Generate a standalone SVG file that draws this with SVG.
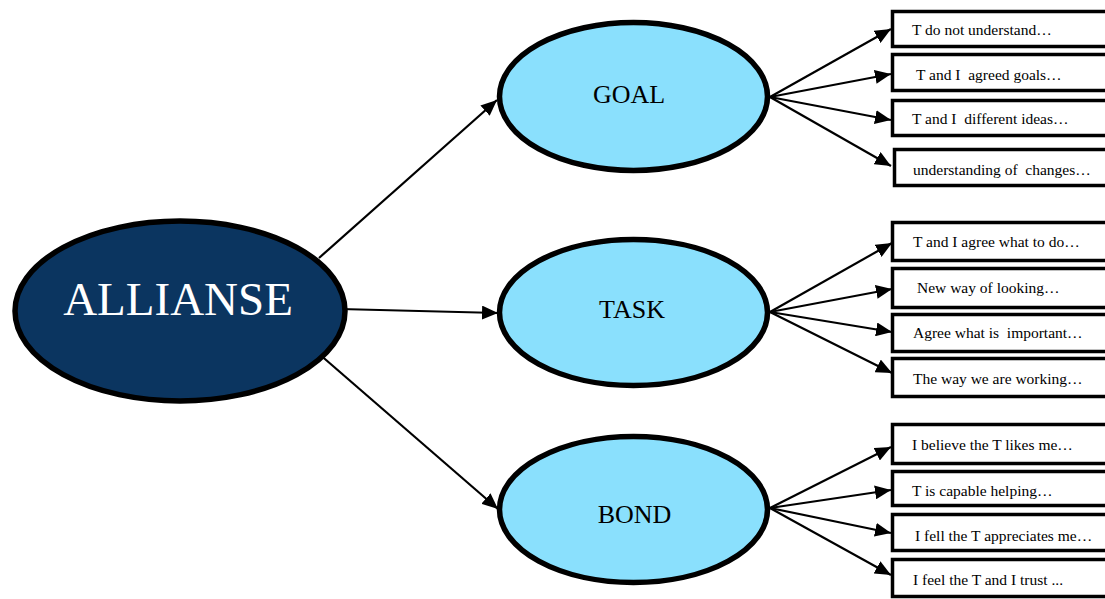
<svg xmlns="http://www.w3.org/2000/svg" width="1105" height="599" viewBox="0 0 1105 599">
  <style>
    .root { fill: #0b3560; stroke: #000; stroke-width: 5.5; }
    .dim { fill: #8ae0fd; stroke: #000; stroke-width: 5.5; }
    .item { fill: #fff; stroke: #000; stroke-width: 3.5; }
    .link { stroke: #000; stroke-width: 2.2; fill: none; marker-end: url(#arrow); }
    .big { font-family: "Liberation Serif", "Times New Roman", serif; font-size: 47px; fill: #fff; text-anchor: middle; }
    .mid { font-family: "Liberation Serif", "Times New Roman", serif; font-size: 26px; fill: #000; text-anchor: middle; }
    .lbl { font-family: "Liberation Serif", "Times New Roman", serif; font-size: 15.5px; fill: #000; white-space: pre; }
  </style>
  <defs>
    <marker id="arrow" markerUnits="userSpaceOnUse" markerWidth="17" markerHeight="14" refX="16" refY="7" orient="auto">
      <path d="M0,0 L16,7 L0,14 z" fill="#000"/>
    </marker>
  </defs>

  <!-- connectors -->
  <g id="connectors">
    <line class="link" x1="319" y1="258" x2="497" y2="100"/>
    <line class="link" x1="340" y1="309" x2="498" y2="313"/>
    <line class="link" x1="318" y1="353" x2="498" y2="509"/>

    <line class="link" x1="770" y1="97" x2="891" y2="29"/>
    <line class="link" x1="770" y1="97" x2="891" y2="74"/>
    <line class="link" x1="770" y1="97" x2="891" y2="120"/>
    <line class="link" x1="770" y1="97" x2="891" y2="166"/>

    <line class="link" x1="770" y1="312" x2="892" y2="243"/>
    <line class="link" x1="770" y1="312" x2="892" y2="289"/>
    <line class="link" x1="770" y1="312" x2="892" y2="332"/>
    <line class="link" x1="770" y1="312" x2="892" y2="373"/>

    <line class="link" x1="770" y1="508" x2="891" y2="447"/>
    <line class="link" x1="770" y1="508" x2="891" y2="490"/>
    <line class="link" x1="770" y1="508" x2="891" y2="533"/>
    <line class="link" x1="770" y1="508" x2="891" y2="575"/>
  </g>

  <!-- central node -->
  <g id="allianse">
    <ellipse class="root" cx="180" cy="311" rx="165" ry="90"/>
    <text class="big" x="178" y="315">ALLIANSE</text>
  </g>

  <!-- dimension nodes -->
  <g id="goal">
    <ellipse class="dim" cx="633.5" cy="96.5" rx="134" ry="74"/>
    <text class="mid" x="629" y="103">GOAL</text>
  </g>
  <g id="task">
    <ellipse class="dim" cx="633.5" cy="312.5" rx="134" ry="73"/>
    <text class="mid" x="632" y="318">TASK</text>
  </g>
  <g id="bond">
    <ellipse class="dim" cx="633.5" cy="509.5" rx="134" ry="73"/>
    <text class="mid" x="634.5" y="523">BOND</text>
  </g>

  <!-- goal items -->
  <g id="goal-1">
    <rect class="item" x="892.5" y="11.5" width="230" height="35"/>
    <text class="lbl" x="912" y="35">T do not understand…</text>
  </g>
  <g id="goal-2">
    <rect class="item" x="892.5" y="54.5" width="230" height="36"/>
    <text class="lbl" x="916" y="80">T and I  agreed goals…</text>
  </g>
  <g id="goal-3">
    <rect class="item" x="892.5" y="100.5" width="230" height="35"/>
    <text class="lbl" x="912" y="124">T and I  different ideas…</text>
  </g>
  <g id="goal-4">
    <rect class="item" x="894.5" y="149.5" width="230" height="36"/>
    <text class="lbl" x="913" y="175">understanding of  changes…</text>
  </g>

  <!-- task items -->
  <g id="task-1">
    <rect class="item" x="892.5" y="222.5" width="230" height="38"/>
    <text class="lbl" x="913" y="247">T and I agree what to do…</text>
  </g>
  <g id="task-2">
    <rect class="item" x="892.5" y="268.5" width="230" height="39"/>
    <text class="lbl" x="917" y="293">New way of looking…</text>
  </g>
  <g id="task-3">
    <rect class="item" x="892.5" y="314.5" width="230" height="37"/>
    <text class="lbl" x="913" y="338">Agree what is  important…</text>
  </g>
  <g id="task-4">
    <rect class="item" x="892.5" y="358.5" width="230" height="38"/>
    <text class="lbl" x="913" y="384">The way we are working…</text>
  </g>

  <!-- bond items -->
  <g id="bond-1">
    <rect class="item" x="892.5" y="424.5" width="230" height="39"/>
    <text class="lbl" x="912" y="450">I believe the T likes me…</text>
  </g>
  <g id="bond-2">
    <rect class="item" x="892.5" y="471.5" width="230" height="34"/>
    <text class="lbl" x="912" y="496">T is capable helping…</text>
  </g>
  <g id="bond-3">
    <rect class="item" x="892.5" y="514.5" width="230" height="36"/>
    <text class="lbl" x="915" y="541">I fell the T appreciates me…</text>
  </g>
  <g id="bond-4">
    <rect class="item" x="892.5" y="559.5" width="230" height="37"/>
    <text class="lbl" x="913" y="585">I feel the T and I trust ...</text>
  </g>
</svg>
